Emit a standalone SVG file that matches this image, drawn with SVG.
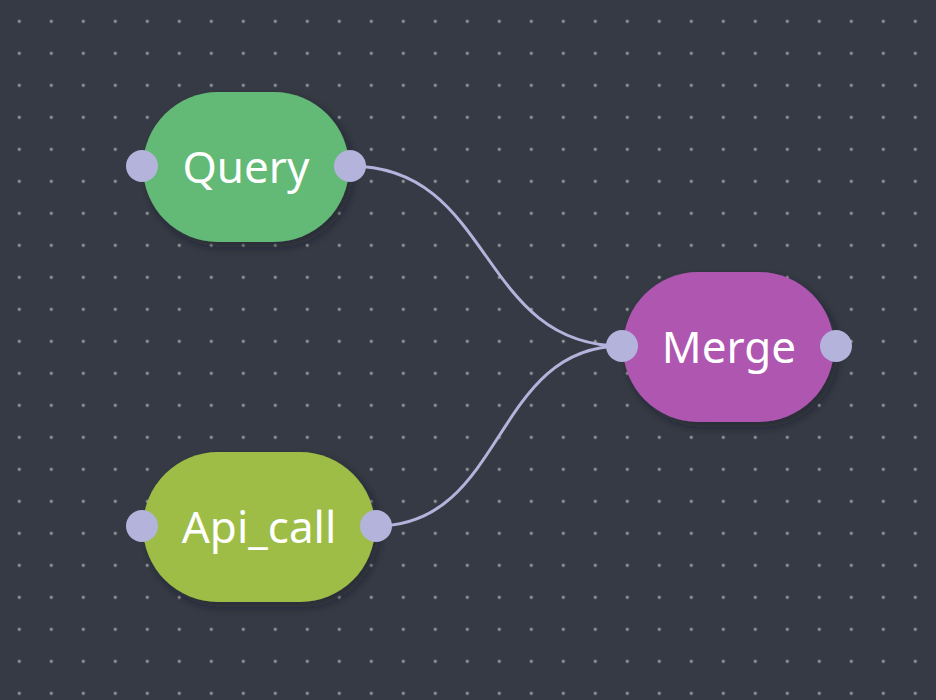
<svg xmlns="http://www.w3.org/2000/svg" width="936" height="700" viewBox="0 0 936 700">
  <defs>
    <pattern id="grid" x="3.3" y="5.3" width="32" height="32" patternUnits="userSpaceOnUse">
      <circle cx="16" cy="16" r="1.5" fill="#a4a6aa"/>
    </pattern>
    <filter id="shadow" x="-20%" y="-20%" width="150%" height="150%">
      <feDropShadow dx="4" dy="5" stdDeviation="5" flood-color="#1a1d22" flood-opacity="0.45"/>
    </filter>
    <style>
      .label { font-family: "Noto Sans", "Open Sans", sans-serif; font-size: 44px; fill: #ffffff; text-anchor: middle; }
      .port { fill: #b3b3dc; }
      .edge { fill: none; stroke: #b3b3dc; stroke-width: 3; }
    </style>
  </defs>
  <rect width="936" height="700" fill="#353a44"/>
  <rect width="936" height="700" fill="url(#grid)"/>
  <g id="connectors">
    <path class="edge" d="M350,166 C495,166 477,346 622,346"/>
    <path class="edge" d="M376,526 C506,526 492,346 622,346"/>
  </g>
  <g id="node-query">
    <rect x="143" y="92" width="206" height="150" rx="75" fill="#64b976" filter="url(#shadow)"/>
    <text class="label" x="246" y="183">Query</text>
    <circle class="port" cx="142" cy="166" r="16"/>
    <circle class="port" cx="350" cy="166" r="16"/>
  </g>
  <g id="node-merge">
    <rect x="623" y="272" width="211" height="150" rx="75" fill="#ae56b0" filter="url(#shadow)"/>
    <text class="label" x="729" y="363">Merge</text>
    <circle class="port" cx="622" cy="346" r="16"/>
    <circle class="port" cx="836" cy="346" r="16"/>
  </g>
  <g id="node-api_call">
    <rect x="143" y="452" width="232" height="150" rx="75" fill="#9dbd47" filter="url(#shadow)"/>
    <text class="label" x="259" y="543">Api_call</text>
    <circle class="port" cx="142" cy="526" r="16"/>
    <circle class="port" cx="376" cy="526" r="16"/>
  </g>
</svg>
